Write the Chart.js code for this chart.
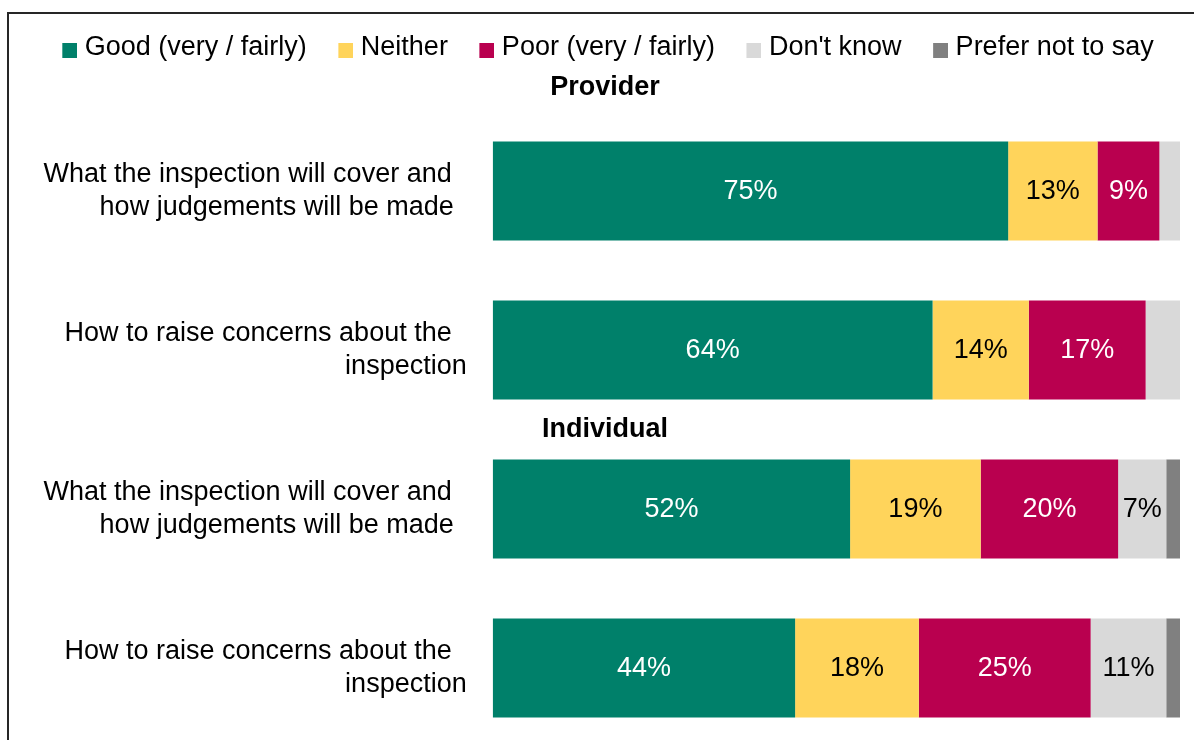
<!DOCTYPE html>
<html>
<head>
<meta charset="utf-8">
<script src="https://cdn.jsdelivr.net/npm/chart.js@4/dist/chart.umd.min.js"></script>
<style>
  html, body { margin: 0; padding: 0; background: #fff; overflow: hidden; }
  #quadro {
    position: absolute; left: 7px; top: 12px; width: 1400px; height: 900px;
    border-top: 2px solid #262626; border-left: 2px solid #262626;
  }
  #graficoInspecao { position: absolute; left: 0; top: 0; }
</style>
</head>
<body>
<div id="quadro"></div>
<canvas id="graficoInspecao" width="1194" height="760"></canvas>
<script>
// Perguntas (duas linhas por rótulo)
const categorias = [
    ['What the inspection will cover and  ', 'how judgements will be made \u2009'],
    ['How to raise concerns about the  ', 'inspection'],
    ['What the inspection will cover and  ', 'how judgements will be made \u2009'],
    ['How to raise concerns about the  ', 'inspection']
];
const grupos = ['Provider', 'Individual'];
const respostas = ['Good (very / fairly)', 'Neither', 'Poor (very / fairly)', "Don't know", 'Prefer not to say'];

// Percentuais por resposta
const bom = [75, 64, 52, 44];
const nenhum = [13, 14, 19, 18];
const ruim = [9, 17, 20, 25];
const naoSabe = [3, 5, 7, 11];
const prefereNao = [0, 0, 2, 2];

const cores = ['#00806A', '#FFD45B', '#B9004F', '#D9D9D9', '#808080'];
const coresTexto = ['#fff', '#000', '#fff', '#000', '#000'];
const fonte = '"Liberation Sans", Arial, sans-serif';

// quadradinho da legenda: desenhado à direita de um canvas mais largo,
// para o texto ficar mais perto do quadrado
function quadrado(cor) {
    const c = document.createElement('canvas');
    c.width = 27;
    c.height = 20;
    const g = c.getContext('2d');
    g.fillStyle = cor;
    g.fillRect(12, 5, 15, 15);
    return c;
}
const simbolos = cores.map(quadrado);

// rótulos de valor dentro das barras
const rotulosBarras = {
    id: 'rotulosBarras',
    afterDatasetsDraw(chart) {
        const ctx = chart.ctx;
        ctx.save();
        ctx.font = '27px ' + fonte;
        ctx.textAlign = 'center';
        ctx.textBaseline = 'middle';
        chart.data.datasets.forEach(function(ds, i) {
            const meta = chart.getDatasetMeta(i);
            meta.data.forEach(function(bar, j) {
                const v = ds.data[j];
                if (v < 6) return;
                ctx.fillStyle = coresTexto[i];
                ctx.fillText(v + '%', (bar.x + bar.base) / 2, bar.y + 1);
            });
        });
        ctx.restore();
    }
};

// subtítulo do segundo grupo, entre a 2a e a 3a barra
const subtitulo = {
    id: 'subtitulo',
    afterDraw(chart) {
        const y = chart.scales.y;
        const t = chart.titleBlock;
        const ctx = chart.ctx;
        ctx.save();
        ctx.font = 'bold 27px ' + fonte;
        ctx.fillStyle = '#000';
        ctx.textAlign = 'center';
        ctx.textBaseline = 'middle';
        ctx.fillText(grupos[1], (t.left + t.right) / 2, (y.getPixelForValue(1) + y.getPixelForValue(2)) / 2);
        ctx.restore();
    }
};

const ctx = document.getElementById('graficoInspecao').getContext('2d');

const series = [bom, nenhum, ruim, naoSabe, prefereNao];

new Chart(ctx, {
    type: 'bar',
    data: {
        labels: categorias,
        datasets: series.map(function(dados, i) {
            return { label: respostas[i], data: dados, backgroundColor: cores[i] };
        })
    },
    options: {
        indexAxis: 'y',
        responsive: false,
        animation: false,
        datasets: {
            bar: { barPercentage: 0.623, categoryPercentage: 1, borderWidth: 0 }
        },
        layout: { padding: { left: 30, right: 14, top: 9, bottom: 12.5 } },
        scales: {
            x: { stacked: true, min: 0, max: 100, display: false },
            y: {
                stacked: true,
                grid: { display: false, drawTicks: false },
                border: { display: false },
                ticks: {
                    color: '#000',
                    padding: 26,
                    font: { family: fonte, size: 27, lineHeight: 1.2 }
                },
                afterFit: function(scale) {
                    scale.width = 462.7;
                    scale.paddingTop = 0;
                    scale.paddingBottom = 0;
                }
            }
        },
        plugins: {
            legend: {
                position: 'top',
                labels: {
                    color: '#000',
                    usePointStyle: true,
                    boxWidth: 15,
                    boxHeight: 15,
                    padding: 25.5,
                    font: { family: fonte, size: 27 },
                    generateLabels: function(chart) {
                        const itens = Chart.defaults.plugins.legend.labels.generateLabels(chart);
                        itens.forEach(function(item, i) { item.pointStyle = simbolos[i]; });
                        return itens;
                    }
                }
            },
            title: {
                display: true,
                text: grupos[0],
                weight: 500,
                color: '#000',
                font: { family: fonte, size: 27, weight: 'bold', lineHeight: 1 },
                padding: { top: 3, bottom: 10 }
            },
            tooltip: { enabled: false }
        }
    },
    plugins: [rotulosBarras, subtitulo]
});
</script>
</body>
</html>
